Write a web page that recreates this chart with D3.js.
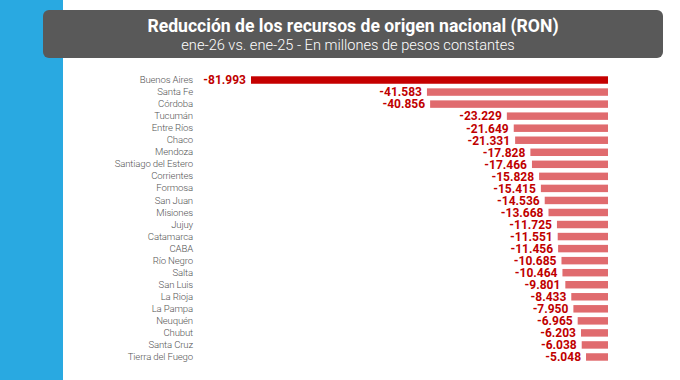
<!DOCTYPE html>
<html><head><meta charset="utf-8">
<script src="https://cdn.jsdelivr.net/npm/d3@7"></script>
<style>html,body{margin:0;padding:0;background:#fff;} svg{display:block;}</style>
</head><body>
<svg id="c" width="680" height="380"></svg>
<script>
const provinces = ["Buenos Aires","Santa Fe","Córdoba","Tucumán","Entre Ríos","Chaco","Mendoza","Santiago del Estero","Corrientes","Formosa","San Juan","Misiones","Jujuy","Catamarca","CABA","Río Negro","Salta","San Luis","La Rioja","La Pampa","Neuquén","Chubut","Santa Cruz","Tierra del Fuego"];
const values = [-81.993,-41.583,-40.856,-23.229,-21.649,-21.331,-17.828,-17.466,-15.828,-15.415,-14.536,-13.668,-11.725,-11.551,-11.456,-10.685,-10.464,-9.801,-8.433,-7.950,-6.965,-6.203,-6.038,-5.048];
const title = "Reducción de los recursos de origen nacional (RON)";
const subtitle = "ene-26 vs. ene-25 - En millones de pesos constantes";

const data = provinces.map((p,i)=>({p, v: values[i]}));
const svg = d3.select("#c");
const font = "Roboto, 'Noto Sans', sans-serif";

svg.append("rect").attr("x",0).attr("y",0).attr("width",63).attr("height",380).attr("fill","#29a9e1");
svg.append("rect").attr("x",43).attr("y",10).attr("width",620).attr("height",48).attr("rx",6).attr("fill","#595959");
svg.append("text").attr("x",353).attr("y",31.5).attr("text-anchor","middle")
  .attr("font-family",font).attr("font-weight",700).attr("font-size",17.6).attr("fill","#fff").text(title);
svg.append("text").attr("x",348).attr("y",50).attr("text-anchor","middle")
  .attr("font-family",font).attr("font-weight",300).attr("font-size",14.6).attr("fill","#fff").text(subtitle);

const x = d3.scaleLinear().domain([-81.993, 0]).range([251, 608]);
const y = d3.scaleBand().domain(provinces).range([74, 363]).paddingInner(0.38).paddingOuter(0.19);

const g = svg.append("g");
g.selectAll("rect.bar").data(data).join("rect").attr("class","bar")
  .attr("x", d=>x(d.v)).attr("width", d=>x(0)-x(d.v))
  .attr("y", d=>y(d.p)).attr("height", y.bandwidth())
  .attr("fill", (d,i)=> i===0 ? "#c50000" : "#e06b6e");

g.selectAll("text.val").data(data).join("text").attr("class","val")
  .attr("x", d=>x(d.v)-5).attr("y", d=>y(d.p)+y.bandwidth()/2).attr("dy","0.36em")
  .attr("text-anchor","end").attr("font-family",font).attr("font-weight",700).attr("font-size",12)
  .attr("fill","#c00000").text(d=>d3.format(".3f")(d.v).replace("−","-"));

const yAxis = d3.axisLeft(y).tickSize(0).tickPadding(0);
const ax = svg.append("g").attr("transform","translate(193,0)").call(yAxis);
ax.select(".domain").remove();
ax.selectAll("text").attr("font-family",font).attr("font-weight",300).attr("font-size",9.6)
  .attr("letter-spacing","-0.15").attr("fill","#555");
</script>
</body></html>
